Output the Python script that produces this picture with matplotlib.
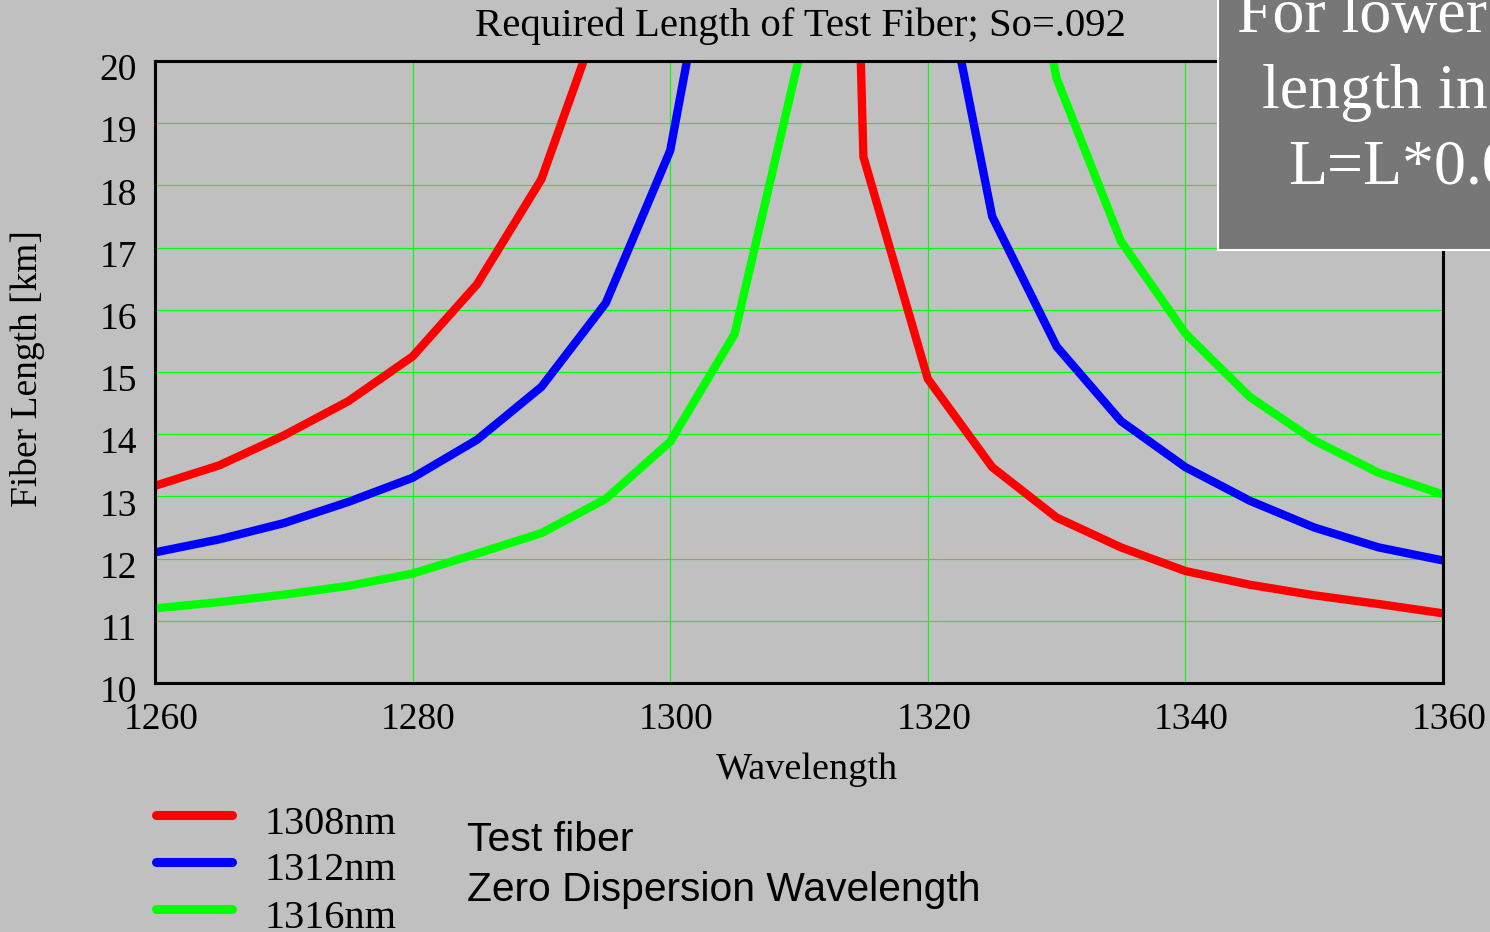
import numpy as np
import matplotlib
matplotlib.use("Agg")
import matplotlib.pyplot as plt
from matplotlib.lines import Line2D
from matplotlib.patches import Rectangle
from matplotlib.transforms import ScaledTranslation

nan = np.nan
wavelength = [1260, 1265, 1270, 1275, 1280, 1285, 1290, 1295, 1300, 1305, 1310,
              1315, 1320, 1325, 1330, 1335, 1340, 1345, 1350, 1355, 1360]
len_1308 = [13.17, 13.50, 13.98, 14.53, 15.25, 16.41, 18.10, 21.0, nan, nan, 57.0,
            18.46, 14.89, 13.47, 12.66, 12.18, 11.80, 11.58, 11.41, 11.27, 11.12]
len_1312 = [12.10, 12.31, 12.57, 12.91, 13.30, 13.91, 14.76, 16.11, 18.56, 24.1, nan,
            nan, 22.7, 17.50, 15.41, 14.21, 13.47, 12.93, 12.50, 12.18, 11.97]
len_1316 = [11.20, 11.30, 11.42, 11.56, 11.76, 12.08, 12.41, 12.96, 13.88, 15.61, 20.05,
            nan, nan, 25.0, 19.72, 17.10, 15.62, 14.60, 13.90, 13.38, 13.03]
series_labels = ["1308nm", "1312nm", "1316nm"]
series_colors = ["#ff0000", "#0000ff", "#00ff00"]
x_ticks = [1260, 1280, 1300, 1320, 1340, 1360]
y_ticks = list(range(10, 21))
title = "Required Length of Test Fiber; So=.092"
note_lines = ["For lower", "length in", "L=L*0.0"]

W, H = 1490, 932
fig = plt.figure(figsize=(W / 100, H / 100), dpi=100, facecolor="#c0c0c0")
serif = "Liberation Serif"
sans = "Liberation Sans"

ax = fig.add_axes([155 / W, 1 - 683 / H, (1443 - 155) / W, (683 - 61) / H])
ax.set_facecolor("#c0c0c0")
ax.set_xlim(1260, 1360)
ax.set_ylim(10, 20)
ax.set_xticks(x_ticks)
ax.set_yticks(y_ticks)
ax.grid(True, color="#00ff00", linewidth=0.8)
ax.set_axisbelow(True)
for s in ax.spines.values():
    s.set_linewidth(2.2)
    s.set_color("black")
ax.tick_params(length=0, labelsize=27, pad=13)
ax.tick_params(axis="x", pad=14)
for lab in ax.get_xticklabels() + ax.get_yticklabels():
    lab.set_fontfamily(serif)
for lab in ax.get_yticklabels():
    lab.set_transform(lab.get_transform() + ScaledTranslation(0, -6 / 100, fig.dpi_scale_trans))
for lab in ax.get_xticklabels():
    lab.set_transform(lab.get_transform() + ScaledTranslation(6 / 100, 0, fig.dpi_scale_trans))

for ys, c in zip([len_1308, len_1312, len_1316], series_colors):
    ax.plot(wavelength, ys, color=c, linewidth=6.0, solid_joinstyle="miter",
            solid_capstyle="butt")

fig.text(800 / W, 1 - 26 / H, title, ha="center", va="center", fontsize=29.3, family=serif)
fig.text(28 / W, 1 - 369 / H, "Fiber Length [km]", rotation=90, ha="center", va="center",
         fontsize=27, family=serif)
fig.text(807 / W, 1 - 770 / H, "Wavelength", ha="center", va="center", fontsize=27.5, family=serif)

# legend
leg_y = [815, 862, 909]
for lbl, c, yy in zip(series_labels, series_colors, leg_y):
    fig.add_artist(Line2D([156 / W, 232 / W], [1 - yy / H, 1 - yy / H], color=c,
                          linewidth=6.5, solid_capstyle="round"))
    fig.text(265 / W, 1 - (yy + 9) / H, lbl, ha="left", va="center", fontsize=29, family=serif)
fig.text(467 / W, 1 - 840 / H, "Test fiber", ha="left", va="center", fontsize=29.5, family=sans)
fig.text(467 / W, 1 - 890 / H, "Zero Dispersion Wavelength", ha="left", va="center",
         fontsize=29.3, family=sans)

# note box
fig.add_artist(Rectangle((1218 / W, 1 - 250 / H), 400 / W, 300 / H, facecolor="#777777",
                         edgecolor="white", linewidth=1.5, zorder=5))
for txt, xs, yb in zip(note_lines, [1237, 1262, 1288], [32, 108, 184]):
    fig.text(xs / W, 1 - yb / H, txt, ha="left", va="baseline", fontsize=46, family=serif,
             color="white", zorder=6)

fig.savefig("out.png", dpi=100, facecolor=fig.get_facecolor())
